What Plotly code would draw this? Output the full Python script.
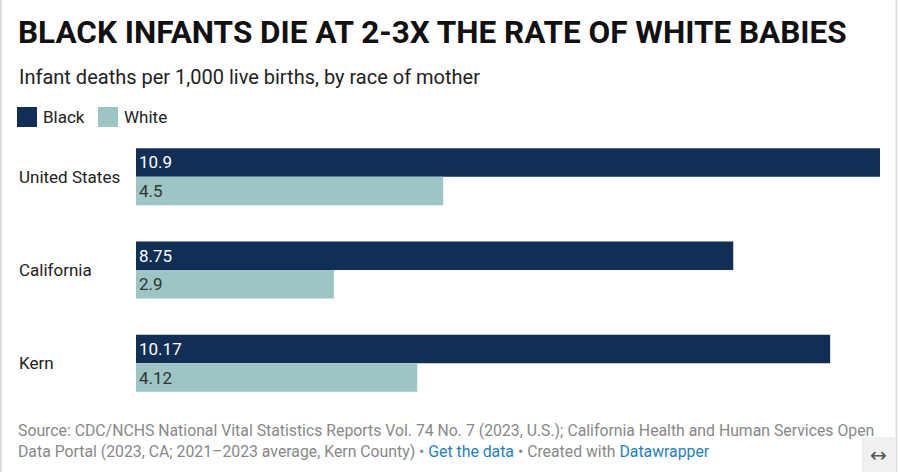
import plotly.graph_objects as go

categories = ["United States", "California", "Kern"]
series_names = ["Black", "White"]
black_values = [10.9, 8.75, 10.17]
white_values = [4.5, 2.9, 4.12]
black_labels = ["10.9", "8.75", "10.17"]
white_labels = ["4.5", "2.9", "4.12"]

title = "BLACK INFANTS DIE AT 2-3X THE RATE OF WHITE BABIES"
subtitle = "Infant deaths per 1,000 live births, by race of mother"

W, H = 900, 472
L, R, T, B = 136, 20, 130, 62
pw = W - L - R
ph = H - T - B

def px_x(x):
    return (x - L) / pw

def px_y(y):
    return 1 - (y - T) / ph

C_BLACK = "#112f54"
C_WHITE = "#9cc5c4"
FONT = "Roboto"

fig = go.Figure()
fig.add_trace(go.Bar(
    y=categories, x=black_values, orientation="h", name=series_names[0],
    marker=dict(color=C_BLACK, line=dict(width=0)),
    text=black_labels, textposition="inside", insidetextanchor="start",
    textfont=dict(color="white", size=17, family=FONT),
    hoverinfo="x+y", cliponaxis=False,
))
fig.add_trace(go.Bar(
    y=categories, x=white_values, orientation="h", name=series_names[1],
    marker=dict(color=C_WHITE, line=dict(width=0)),
    text=white_labels, textposition="inside", insidetextanchor="start",
    textfont=dict(color="#333333", size=17, family=FONT),
    hoverinfo="x+y", cliponaxis=False,
))

annotations = []
for c in categories:
    annotations.append(dict(
        x=px_x(17), xref="paper", y=c, yref="y", text=c, showarrow=False,
        xanchor="left", yanchor="middle",
        font=dict(size=17, color="#222222", family=FONT),
    ))

annotations.append(dict(
    x=px_x(16), y=px_y(33), xref="paper", yref="paper", text="<b>" + title + "</b>",
    showarrow=False, xanchor="left", yanchor="middle",
    font=dict(size=31.5, color="#111111", family=FONT),
))
annotations.append(dict(
    x=px_x(17), y=px_y(77), xref="paper", yref="paper", text=subtitle,
    showarrow=False, xanchor="left", yanchor="middle",
    font=dict(size=20, color="#222222", family=FONT),
))

shapes = []
legend_pos = [(17, 41), (98, 122)]
legend_colors = [C_BLACK, C_WHITE]
for (sx, tx), name, col in zip(legend_pos, series_names, legend_colors):
    shapes.append(dict(type="rect", xref="paper", yref="paper",
                       x0=px_x(sx), x1=px_x(sx + 20), y0=px_y(107), y1=px_y(127),
                       fillcolor=col, line=dict(width=0)))
    annotations.append(dict(
        x=px_x(tx), y=px_y(117), xref="paper", yref="paper", text=name,
        showarrow=False, xanchor="left", yanchor="middle",
        font=dict(size=17, color="#222222", family=FONT),
    ))

source = ("Source: CDC/NCHS National Vital Statistics Reports Vol. 74 No. 7 (2023, U.S.); "
          "California Health and Human Services Open<br>Data Portal (2023, CA; 2021\u20132023 average, "
          "Kern County) \u2022 <span style='color:#1d81c2'>Get the data</span> \u2022 Created with "
          "<span style='color:#1d81c2'>Datawrapper</span>")
annotations.append(dict(
    x=px_x(16), y=px_y(419), xref="paper", yref="paper", text=source,
    showarrow=False, xanchor="left", yanchor="top", align="left",
    font=dict(size=15.8, color="#888888", family=FONT),
))

# frame lines and expand button
shapes.append(dict(type="rect", xref="paper", yref="paper",
                   x0=px_x(862), x1=px_x(895), y0=px_y(472), y1=px_y(437),
                   fillcolor="#f0f0f0", line=dict(width=0)))
shapes.append(dict(type="line", xref="paper", yref="paper",
                   x0=px_x(1), x1=px_x(1), y0=px_y(0), y1=px_y(472),
                   line=dict(color="#dddddd", width=2)))
shapes.append(dict(type="line", xref="paper", yref="paper",
                   x0=px_x(896.5), x1=px_x(896.5), y0=px_y(0), y1=px_y(472),
                   line=dict(color="#dddddd", width=2)))
annotations.append(dict(
    x=px_x(878.5), y=px_y(455), xref="paper", yref="paper", text="\u2194",
    showarrow=False, xanchor="center", yanchor="middle",
    font=dict(size=20, color="#555555", family="DejaVu Sans"),
))

fig.update_layout(
    width=W, height=H,
    margin=dict(l=L, r=R, t=T, b=B, pad=0),
    paper_bgcolor="white", plot_bgcolor="white",
    barmode="group", bargap=0.39, bargroupgap=0.0,
    showlegend=False,
    xaxis=dict(range=[0, 10.9], visible=False, fixedrange=True),
    yaxis=dict(autorange="reversed", showticklabels=False, showgrid=False,
               zeroline=False, ticks="", fixedrange=True),
    uniformtext=dict(mode=False),
    annotations=annotations, shapes=shapes,
    font=dict(family=FONT),
)

fig.write_html("out.html", config={"displayModeBar": False})
